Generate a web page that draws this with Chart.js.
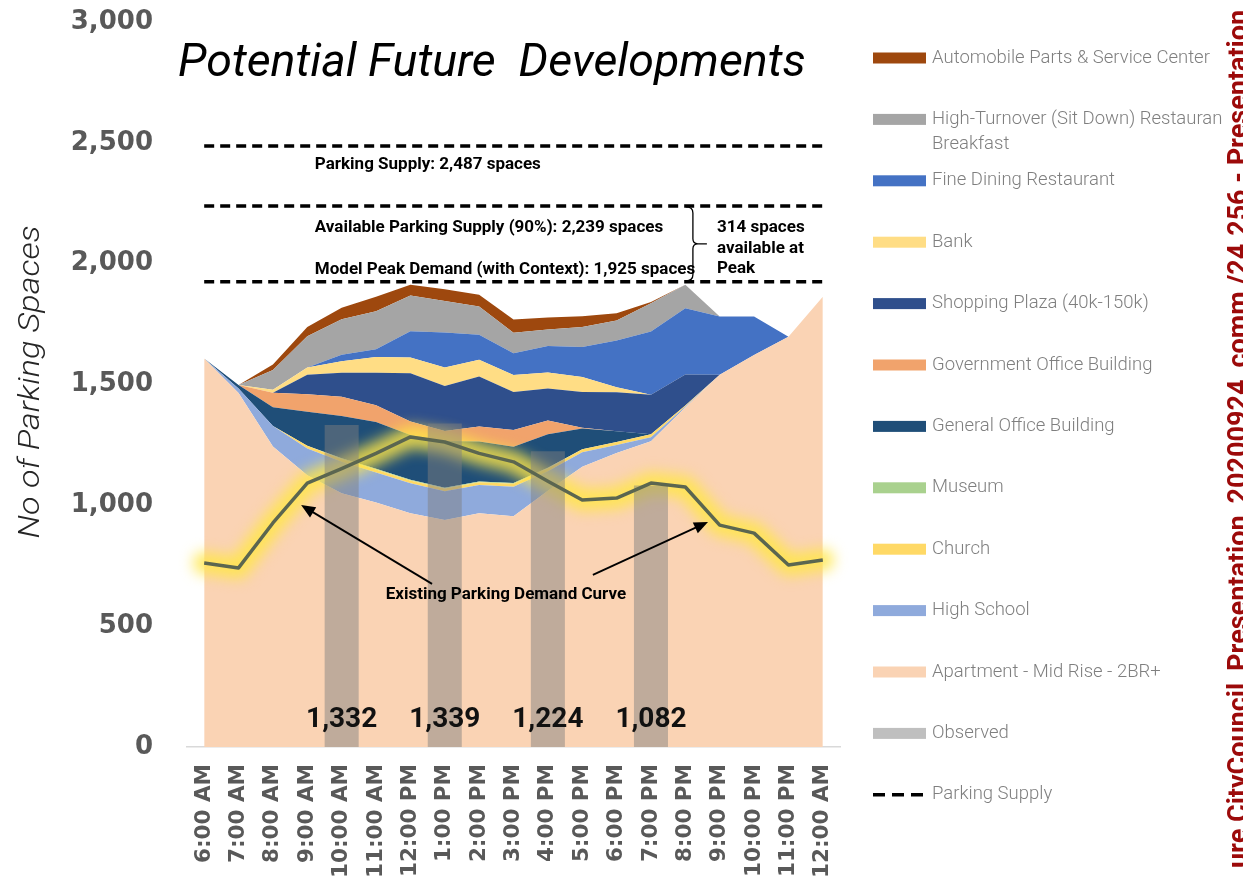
<!DOCTYPE html>
<html lang="en">
<head>
<meta charset="UTF-8">
<title>Potential Future Developments</title>
<style>
  html, body { margin: 0; padding: 0; background: #fff; }
</style>
</head>
<body>
<canvas id="parkingChart" width="1243" height="880"></canvas>

<script src="https://cdn.jsdelivr.net/npm/chart.js@4.4.0/dist/chart.umd.min.js"></script>
<script>
  const HOURS = ['6:00 AM', '7:00 AM', '8:00 AM', '9:00 AM', '10:00 AM', '11:00 AM', '12:00 PM',
    '1:00 PM', '2:00 PM', '3:00 PM', '4:00 PM', '5:00 PM', '6:00 PM', '7:00 PM', '8:00 PM',
    '9:00 PM', '10:00 PM', '11:00 PM', '12:00 AM'];

  // stacked land uses, bottom of the stack first
  const apartment     = [1608, 1465, 1243, 1125, 1050, 1012, 967, 939, 967, 955, 1060, 1160, 1217, 1265, 1405, 1540, 1622, 1698, 1863];
  const highSchool    = [0, 18, 85, 110, 130, 124, 124, 119, 117, 122, 81, 60, 33, 17, 4, 0, 0, 0, 0];
  const church        = [0, 0, 0, 12, 12, 12, 12, 12, 12, 12, 12, 12, 12, 12, 4, 0, 0, 0, 0];
  const museum        = [0, 0, 0, 0, 3, 3, 3, 3, 3, 3, 3, 0, 0, 0, 0, 0, 0, 0, 0];
  const generalOffice = [0, 15, 78, 140, 175, 194, 185, 193, 165, 150, 138, 86, 45, 0, 0, 0, 0, 0, 0];
  const govOffice     = [0, 0, 60, 73, 79, 69, 56, 42, 62, 70, 57, 3, 0, 0, 0, 0, 0, 0, 0];
  const shoppingPlaza = [0, 0, 0, 80, 100, 135, 200, 186, 207, 157, 132, 148, 161, 164, 128, 0, 0, 0, 0];
  const bank          = [0, 0, 12, 30, 47, 65, 65, 76, 69, 70, 67, 62, 21, 0, 0, 0, 0, 0, 0];
  const fineDining    = [0, 0, 0, 0, 27, 32, 108, 145, 104, 90, 109, 124, 193, 261, 275, 241, 159, 0, 0];
  const highTurnover  = [0, 0, 82, 130, 147, 157, 148, 131, 117, 85, 69, 83, 83, 117, 97, 0, 0, 0, 0];
  const autoParts     = [0, 0, 23, 38, 48, 60, 45, 48, 48, 55, 49, 44, 30, 5, 0, 0, 0, 0, 0];

  const observed = [null, null, null, null, 1332, null, null, 1339, null, null, 1224, null, null, 1082, null, null, null, null, null];
  const existingDemand = [761, 741, 927, 1092, 1152, 1215, 1283, 1262, 1215, 1180, 1100, 1022, 1030, 1092, 1076, 918, 885, 753, 774];

  const PARKING_SUPPLY = 2487;
  const AVAILABLE_SUPPLY = 2239;
  const MODEL_PEAK = 1925;

  const areaSeries = [
    { label: 'Apartment - Mid Rise - 2BR+', data: apartment, color: '#FAD3B4' },
    { label: 'High School', data: highSchool, color: '#8FAADC' },
    { label: 'Church', data: church, color: '#FFD966' },
    { label: 'Museum', data: museum, color: '#A9D18E' },
    { label: 'General Office Building', data: generalOffice, color: '#1F4E78' },
    { label: 'Government Office Building', data: govOffice, color: '#F1A36C' },
    { label: 'Shopping Plaza (40k-150k)', data: shoppingPlaza, color: '#2F4F8C' },
    { label: 'Bank', data: bank, color: '#FFDD85' },
    { label: 'Fine Dining Restaurant', data: fineDining, color: '#4472C4' },
    { label: ['High-Turnover (Sit Down) Restaurant', 'Breakfast'], data: highTurnover, color: '#A5A5A5' },
    { label: 'Automobile Parts & Service Center', data: autoParts, color: '#9E480E' }
  ];

  const flat = v => HOURS.map(() => v);

  const datasets = areaSeries.map((s, i) => ({
    type: 'line',
    label: s.label,
    data: s.data,
    stack: 'developments',
    order: 10,
    fill: i === 0 ? 'origin' : '-1',
    backgroundColor: s.color,
    borderColor: 'transparent',
    borderWidth: 0,
    pointRadius: 0,
    inLegend: true
  }));

  datasets.push({
    type: 'bar',
    label: 'Observed',
    data: observed,
    stack: 'observed',
    order: 6,
    backgroundColor: 'rgba(128, 128, 128, 0.48)',
    barPercentage: 1,
    categoryPercentage: 0.99,
    inLegend: true
  });

  // soft yellow halo under the existing demand curve
  datasets.push({
    type: 'line',
    label: 'Existing Parking Demand glow',
    data: existingDemand,
    stack: 'glow',
    order: 8,
    fill: false,
    borderColor: 'rgba(255, 230, 70, 0.85)',
    borderWidth: 22,
    borderCapStyle: 'round',
    borderJoinStyle: 'round',
    pointRadius: 0,
    blurPx: 7
  });

  datasets.push({
    type: 'line',
    label: 'Existing Parking Demand Curve',
    data: existingDemand,
    stack: 'demand',
    order: 4,
    fill: false,
    borderColor: '#5B6650',
    borderWidth: 3.5,
    borderJoinStyle: 'round',
    pointRadius: 0
  });

  [PARKING_SUPPLY, AVAILABLE_SUPPLY, MODEL_PEAK].forEach((v, i) => {
    datasets.push({
      type: 'line',
      label: 'Parking Supply',
      data: flat(v),
      stack: 'supply' + i,
      order: 2,
      fill: false,
      borderColor: '#000',
      borderWidth: 3.5,
      borderDash: [10, 6],
      pointRadius: 0,
      inLegend: i === 0,
      dashed: true
    });
  });

  const glowPlugin = {
    id: 'glow',
    beforeDatasetDraw(chart, args) {
      const ds = chart.data.datasets[args.index];
      if (ds.blurPx) {
        chart.ctx.save();
        chart.ctx.filter = 'blur(' + ds.blurPx + 'px)';
      }
    },
    afterDatasetDraw(chart, args) {
      if (chart.data.datasets[args.index].blurPx) chart.ctx.restore();
    }
  };

  function arrow(ctx, x1, y1, x2, y2) {
    const a = Math.atan2(y2 - y1, x2 - x1);
    const len = 14, half = 6;
    ctx.beginPath();
    ctx.moveTo(x1, y1);
    ctx.lineTo(x2 - Math.cos(a) * len * 0.8, y2 - Math.sin(a) * len * 0.8);
    ctx.stroke();
    ctx.beginPath();
    ctx.moveTo(x2, y2);
    ctx.lineTo(x2 - Math.cos(a) * len - Math.sin(a) * half, y2 - Math.sin(a) * len + Math.cos(a) * half);
    ctx.lineTo(x2 - Math.cos(a) * len + Math.sin(a) * half, y2 - Math.sin(a) * len - Math.cos(a) * half);
    ctx.closePath();
    ctx.fill();
  }

  const notesPlugin = {
    id: 'notes',
    afterDatasetsDraw(chart) {
      const { ctx, scales: { x, y } } = chart;
      const X = i => x.getPixelForValue(i);
      const Y = v => y.getPixelForValue(v);

      ctx.save();

      // observed counts along the bottom of each bar
      const barMeta = chart.getDatasetMeta(areaSeries.length);
      ctx.font = 'bold 28px Roboto';
      ctx.fillStyle = '#111';
      ctx.textAlign = 'center';
      ctx.textBaseline = 'middle';
      barMeta.data.forEach((bar, i) => {
        if (observed[i] == null) return;
        ctx.fillText(observed[i].toLocaleString('en-US'), bar.x, bar.base - 27);
      });

      // supply labels
      ctx.font = 'bold 17px Roboto';
      ctx.fillStyle = '#000';
      ctx.textAlign = 'left';
      ctx.fillText('Parking Supply: ' + PARKING_SUPPLY.toLocaleString('en-US') + ' spaces', X(3.22), Y(2408));
      ctx.fillText('Available Parking Supply (90%): ' + AVAILABLE_SUPPLY.toLocaleString('en-US') + ' spaces', X(3.22), Y(2148));
      ctx.fillText('Model Peak Demand (with Context): ' + MODEL_PEAK.toLocaleString('en-US') + ' spaces', X(3.22), Y(1974));

      const spare = AVAILABLE_SUPPLY - MODEL_PEAK;
      ctx.fillText(spare + ' spaces', X(14.92), Y(2148));
      ctx.fillText('available at', X(14.92), Y(2063));
      ctx.fillText('Peak', X(14.92), Y(1978));

      // brace between available supply and model peak
      const bx = X(14.22), top = Y(AVAILABLE_SUPPLY), bot = Y(MODEL_PEAK), mid = (top + bot) / 2;
      ctx.strokeStyle = '#000';
      ctx.lineWidth = 1.3;
      ctx.beginPath();
      ctx.moveTo(bx - 7, top + 1);
      ctx.quadraticCurveTo(bx, top + 1, bx, top + 7);
      ctx.lineTo(bx, mid - 5);
      ctx.quadraticCurveTo(bx, mid, bx + 5, mid);
      ctx.lineTo(bx + 14, mid);
      ctx.moveTo(bx + 5, mid);
      ctx.quadraticCurveTo(bx, mid, bx, mid + 5);
      ctx.lineTo(bx, bot - 7);
      ctx.quadraticCurveTo(bx, bot - 1, bx - 7, bot - 1);
      ctx.stroke();

      // existing demand callout
      ctx.textAlign = 'center';
      ctx.fillText('Existing Parking Demand Curve', X(8.78), Y(629));
      ctx.fillStyle = '#000';
      ctx.lineWidth = 1.8;
      arrow(ctx, X(6.63), Y(675), X(2.82), Y(1001));
      arrow(ctx, X(11.31), Y(712), X(14.66), Y(931));

      ctx.restore();
    },
    afterDraw(chart) {
      const ctx = chart.ctx;
      ctx.save();

      // title
      ctx.font = 'italic 46.5px Roboto';
      ctx.fillStyle = '#000';
      ctx.textBaseline = 'alphabetic';
      ctx.fillText('Potential Future  Developments', 178, 76);

      // y axis title, slightly stretched along its length
      ctx.save();
      ctx.translate(31, 382);
      ctx.rotate(-Math.PI / 2);
      ctx.scale(1.14, 1);
      ctx.font = 'italic 300 30px Roboto';
      ctx.fillStyle = '#262626';
      ctx.textAlign = 'center';
      ctx.textBaseline = 'middle';
      ctx.fillText('No of Parking Spaces', 0, 0);
      ctx.restore();

      // legend, top layer of the stack first
      ctx.save();
      ctx.beginPath();
      ctx.rect(860, 0, 362, 880);
      ctx.clip();
      ctx.font = '300 18.5px Roboto';
      ctx.textBaseline = 'middle';
      const inLegend = chart.data.datasets.filter(d => d.inLegend);
      const areas = inLegend.filter(d => d.stack === 'developments').reverse();
      const ordered = areas.concat(inLegend.filter(d => d.stack !== 'developments'));
      ordered.forEach((d, i) => {
        const ly = 58 + i * 61.4;
        if (d.dashed) {
          ctx.strokeStyle = '#000';
          ctx.lineWidth = 3.5;
          ctx.setLineDash([12, 7]);
          ctx.beginPath();
          ctx.moveTo(873, ly);
          ctx.lineTo(926, ly);
          ctx.stroke();
          ctx.setLineDash([]);
        } else {
          ctx.fillStyle = d.type === 'bar' ? '#BFBFBF' : d.backgroundColor;
          ctx.fillRect(873, ly - 5.5, 53, 11);
        }
        ctx.fillStyle = '#7F7F7F';
        const lines = Array.isArray(d.label) ? d.label : [d.label];
        lines.forEach((t, k) => ctx.fillText(t, 932, ly + k * 25));
      });
      ctx.restore();

      // file reference running up the right edge
      ctx.save();
      ctx.translate(1247, 868);
      ctx.rotate(-Math.PI / 2);
      ctx.font = 'bold 27px Roboto';
      ctx.fillStyle = '#9C0A0A';
      ctx.textBaseline = 'alphabetic';
      ctx.fillText('ure CityCouncil_Presentation_20200924_comm /24.256 - Presentation', 0, 0);
      ctx.restore();

      ctx.restore();
    }
  };

  new Chart(document.getElementById('parkingChart'), {
    type: 'line',
    data: { labels: HOURS, datasets },
    plugins: [glowPlugin, notesPlugin],
    options: {
      responsive: false,
      animation: false,
      layout: { padding: { left: 0, right: 403, top: 22, bottom: 0 } },
      plugins: {
        legend: { display: false },
        tooltip: { enabled: false },
        title: { display: false }
      },
      elements: { line: { tension: 0 }, point: { radius: 0 } },
      scales: {
        x: {
          offset: true,
          grid: { display: false, drawTicks: false },
          border: { display: true, color: '#D9D9D9', width: 1.5 },
          ticks: {
            autoSkip: false,
            minRotation: 90,
            maxRotation: 90,
            padding: 17,
            color: '#595959',
            font: { family: 'DejaVu Sans', weight: 'bold', size: 21.5 }
          },
          afterFit: s => { s.height = 133; }
        },
        y: {
          stacked: true,
          min: 0,
          max: 3000,
          grid: { display: false, drawTicks: false },
          border: { display: false },
          ticks: {
            stepSize: 500,
            padding: 34,
            color: '#595959',
            font: { family: 'DejaVu Sans', weight: 'bold', size: 26 },
            callback: v => v.toLocaleString('en-US')
          },
          // keep the top label from pushing the plot down
          afterFit: s => { s.width = 187; s.paddingTop = 0; s.paddingBottom = 0; }
        }
      }
    }
  });
</script>
</body>
</html>
